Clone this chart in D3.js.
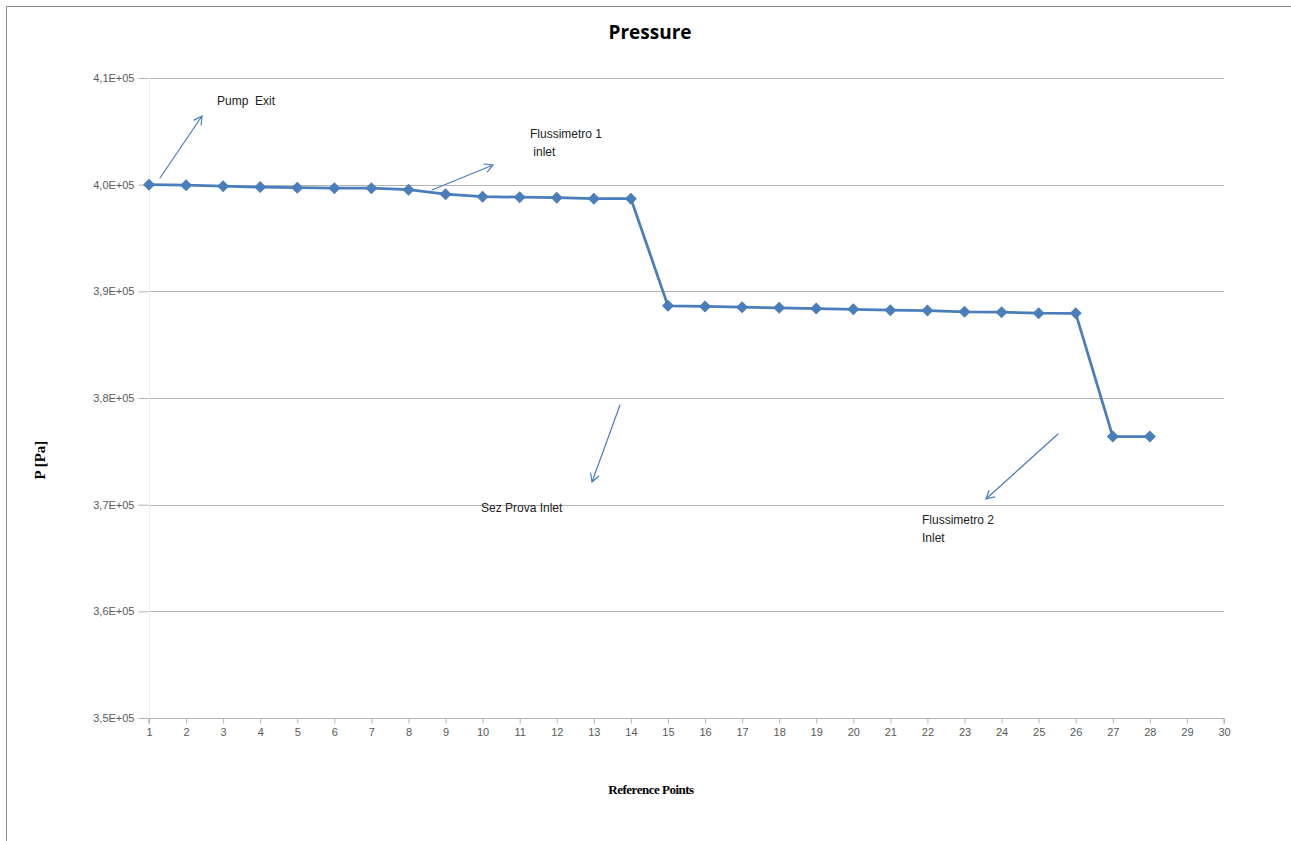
<!DOCTYPE html>
<html><head><meta charset="utf-8">
<script src="https://cdn.jsdelivr.net/npm/d3@7"></script>
<style>body{margin:0;background:#fff;} svg{display:block;}</style>
</head><body>
<svg id="chart" width="1291" height="841"></svg>
<script>
const points = [1,2,3,4,5,6,7,8,9,10,11,12,13,14,15,16,17,18,19,20,21,22,23,24,25,26,27,28];
const pressure = [400000,399950,399860,399770,399720,399670,399670,399530,399110,398875,398830,398780,398690,398690,
  388640,388580,388510,388450,388380,388320,388230,388200,388080,388040,387950,387940,376380,376380];
const xTicks = d3.range(1,31);
const yTicks = [350000,360000,370000,380000,390000,400000,410000];
const yTickLabels = ["3,5E+05","3,6E+05","3,7E+05","3,8E+05","3,9E+05","4,0E+05","4,1E+05"];
const annotations = [
  {lines:["Pump  Exit"], x:217, y:105},
  {lines:["Flussimetro 1"," inlet"], x:530, y:138},
  {lines:["Sez Prova Inlet"], x:481, y:512},
  {lines:["Flussimetro 2","Inlet"], x:922, y:524}
];
const arrows = [
  {from:[160,178], to:[202,116]},
  {from:[432,190], to:[493,165]},
  {from:[620,405], to:[592,482]},
  {from:[1058,434], to:[986,499]}
];

const svg = d3.select("#chart");
const color = "#4a7ebb";

// outer frame
svg.append("path").attr("d","M6.5,841 L6.5,6.5 L1291,6.5").attr("fill","none").attr("stroke","#8c8c8c").attr("stroke-width",1);

const x = d3.scaleLinear().domain([1,30]).range([149,1224]);
const y = d3.scaleLinear().domain([350000,410000]).range([718,78]);

// gridlines
svg.append("g").selectAll("line").data(yTicks.filter(d=>d>350000)).join("line")
  .attr("x1",x(1)).attr("x2",x(30)).attr("y1",d=>Math.round(y(d))+0.5).attr("y2",d=>Math.round(y(d))+0.5)
  .attr("stroke","#b3b3b3").attr("stroke-width",1);

// x axis
const xAxis = d3.axisBottom(x).tickValues(xTicks).tickSize(5).tickFormat(d3.format("d"));
const gx = svg.append("g").attr("transform",`translate(0,${Math.round(y(350000))+0.5})`).call(xAxis);
gx.select(".domain").attr("stroke","#b3b3b3").attr("d",`M${x(1)},5V0H${x(30)}V5`);
gx.selectAll(".tick line").attr("stroke","#b3b3b3");
gx.selectAll("text").attr("fill","#595959").attr("font-size","11px").attr("font-family","Liberation Sans, Arial, sans-serif").attr("dy","0.9em");

// y axis
const yAxis = d3.axisLeft(y).tickValues(yTicks).tickSize(5).tickFormat((d,i)=>yTickLabels[i]);
const gy = svg.append("g").attr("transform",`translate(${x(1)-0.5},0)`).call(yAxis);
gy.select(".domain").remove();
gy.selectAll(".tick line").attr("stroke","#b3b3b3").attr("x1",-10).attr("x2",0);
gy.selectAll("text").attr("fill","#595959").attr("font-size","11px").attr("font-family","Liberation Sans, Arial, sans-serif").attr("x",-14);
svg.append("line").attr("x1",x(1)+0.5).attr("x2",x(1)+0.5).attr("y1",y(410000)).attr("y2",y(350000)).attr("stroke","#eeeeee");

// line
const line = d3.line().x((d,i)=>x(points[i])).y(d=>y(d));
svg.append("path").datum(pressure).attr("d",line).attr("fill","none").attr("stroke",color).attr("stroke-width",2.75).attr("stroke-linejoin","round");

// markers (square diamonds)
svg.append("g").selectAll("path").data(pressure).join("path")
  .attr("d",d3.symbol().type(d3.symbolSquare).size(56))
  .attr("transform",(d,i)=>`translate(${x(points[i])},${y(d)}) rotate(45)`)
  .attr("fill",color).attr("stroke",color).attr("stroke-width",1);

// title
svg.append("text").attr("x",650).attr("y",39).attr("text-anchor","middle")
  .attr("font-family","Open Sans, Liberation Sans, Arial, sans-serif").attr("font-weight","bold").attr("font-size","19px").attr("fill","#000").text("Pressure");

// axis titles
svg.append("text").attr("transform","translate(45,460) rotate(-90)").attr("text-anchor","middle")
  .attr("font-family","Liberation Serif, Times New Roman, serif").attr("font-weight","bold").attr("font-size","15px").text("P [Pa]");
svg.append("text").attr("x",651).attr("y",794).attr("text-anchor","middle")
  .attr("font-family","Liberation Serif, Times New Roman, serif").attr("font-weight","bold").attr("font-size","13px").attr("letter-spacing","-0.5px").text("Reference Points");

// annotations
annotations.forEach(a=>{
  const t = svg.append("text").attr("font-family","Liberation Sans, Arial, sans-serif").attr("font-size","12px").attr("fill","#222");
  a.lines.forEach((l,i)=>t.append("tspan").attr("x",a.x).attr("y",a.y+i*18).attr("xml:space","preserve").text(l));
});

// arrows
arrows.forEach(a=>{
  const [x1,y1]=a.from,[x2,y2]=a.to;
  const ang=Math.atan2(y2-y1,x2-x1), L=9, w=0.5;
  const h1=[x2-L*Math.cos(ang-w), y2-L*Math.sin(ang-w)];
  const h2=[x2-L*Math.cos(ang+w), y2-L*Math.sin(ang+w)];
  svg.append("path").attr("d",`M${x1},${y1}L${x2},${y2}M${h1[0]},${h1[1]}L${x2},${y2}L${h2[0]},${h2[1]}`)
    .attr("fill","none").attr("stroke",color).attr("stroke-width",1.2).attr("stroke-linecap","round");
});
</script>
</body></html>
